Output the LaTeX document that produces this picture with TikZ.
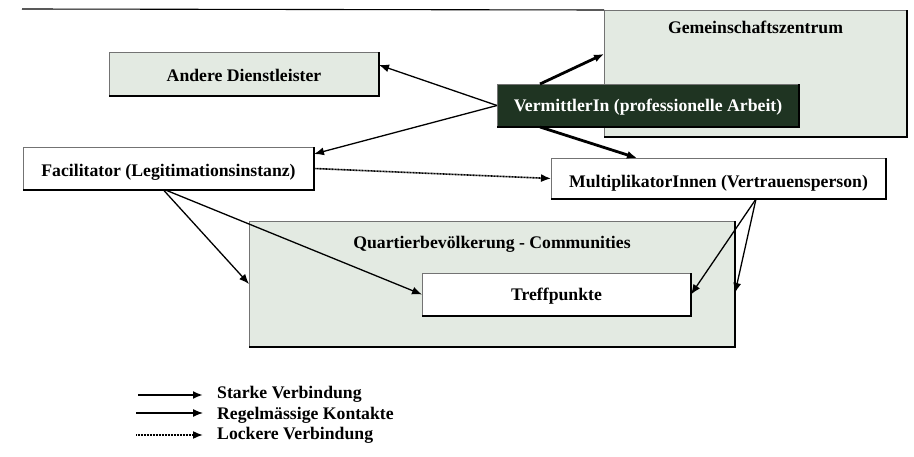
\documentclass[tikz,border=0pt]{standalone}
\usepackage{fontspec}
\setmainfont{Liberation Serif}
\usetikzlibrary{arrows.meta,calc}
\definecolor{boxfill}{HTML}{E3EAE2}
\definecolor{darkfill}{HTML}{1F3422}
\begin{document}
\begin{tikzpicture}[x=1pt,y=-1pt,
  font=\fontsize{17.7}{20}\selectfont\bfseries,
  box/.style={rectangle, draw=black!55, line width=0.8pt, inner sep=0pt, outer sep=0pt},
  lightbox/.style={box, fill=boxfill},
  whitebox/.style={box, fill=white},
  darkbox/.style={box, fill=darkfill},
  shadowedge/.style={draw=black, line width=1.6pt},
  tip/.style={-{Latex[length=10pt,width=8pt]}},
  regular/.style={tip, line width=1.3pt},
  strong/.style={tip, line width=2.8pt},
  loose/.style={tip, line width=1.6pt, dash pattern=on 1pt off 0.5pt},
  txt/.style={anchor=base, inner sep=0pt},
]
\useasboundingbox (0,0) rectangle (914,457);

% boxes
\node[lightbox, minimum width=303pt, minimum height=127pt,
  label={[txt, yshift=46.5pt]center:{Gemeinschaftszentrum}}] (gemein) at (755.5,73.5) {};
\node[lightbox, minimum width=270pt, minimum height=44pt,
  label={[txt, yshift=-1pt]center:{Andere Dienstleister}}] (andere) at (244,74) {};
\node[whitebox, minimum width=291pt, minimum height=43pt,
  label={[txt, yshift=-3.5pt]center:{Facilitator (Legitimationsinstanz)}}] (facil) at (168.5,168.5) {};
\node[darkbox, minimum width=302pt, minimum height=43pt,
  label={[txt, yshift=-1.5pt, text=white]center:{VermittlerIn (professionelle Arbeit)}}] (verm) at (648,105.5) {};
\node[whitebox, minimum width=335pt, minimum height=41pt,
  label={[txt, yshift=-4.5pt]center:{MultiplikatorInnen (Vertrauensperson)}}] (multi) at (718.5,178.5) {};
\node[lightbox, minimum width=486pt, minimum height=126pt,
  label={[txt, yshift=40pt]center:{Quartierbevölkerung - Communities}}] (quart) at (492,284) {};
\node[whitebox, minimum width=269pt, minimum height=43pt,
  label={[txt, yshift=-1.5pt]center:{Treffpunkte}}] (treff) at (556.5,294.5) {};

\foreach \n in {gemein,andere,facil,verm,multi,quart,treff}
  \draw[shadowedge] (\n.south west) -- (\n.south east) -- (\n.north east);

% top rule
\coordinate (rulestart) at (22,9);
\draw[line width=1.1pt] (rulestart) -- (gemein.north west);

% connectors
\draw[regular] (verm.west) -- ([yshift=9pt]andere.east);
\draw[regular] (verm.west) -- ([yshift=14.5pt]facil.east);
\draw[strong] ([xshift=-108pt]verm.north) -- ([yshift=19.5pt]gemein.west);
\draw[strong] ([xshift=-108pt]verm.south) -- ([xshift=-81.5pt]multi.north);
\draw[loose] (facil.east) -- (multi.west);
\draw[regular] ([xshift=-5pt]facil.south) -- (quart.west);
\draw[regular] ([xshift=-3pt]facil.south) -- (treff.west);
\draw[regular] ([xshift=37.5pt]multi.south) -- (treff.east);
\draw[regular] ([xshift=37.5pt]multi.south) -- ([yshift=-9pt]quart.east);

% legend
\coordinate (l1a) at (138,395); \coordinate (l1b) at (203,395);
\coordinate (l2a) at (136,413); \coordinate (l2b) at (203,413);
\coordinate (l3a) at (136,435); \coordinate (l3b) at (203,435);
\draw[strong] (l1a) -- (l1b);
\draw[regular] (l2a) -- (l2b);
\draw[loose] (l3a) -- (l3b);
\node[txt, anchor=base west] (lt1) at (217,399) {Starke Verbindung};
\node[txt, anchor=base west] (lt2) at (217,419) {Regelmässige Kontakte};
\node[txt, anchor=base west] (lt3) at (217,439) {Lockere Verbindung};
\end{tikzpicture}
\end{document}
